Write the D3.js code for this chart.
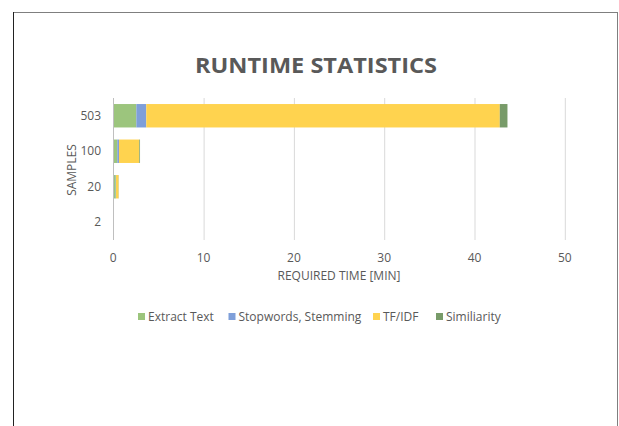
<!DOCTYPE html>
<html>
<head>
<meta charset="utf-8">
<script src="https://cdn.jsdelivr.net/npm/d3@7"></script>
<style>
  body { margin: 0; background: #fff; }
  text { font-family: "Open Sans", sans-serif; fill: #595959; }
</style>
</head>
<body>
<div id="showBox"></div>
<script>
// sample sizes, bottom to top
const samples = ["2", "20", "100", "503"];
const steps = ["Extract Text", "Stopwords, Stemming", "TF/IDF", "Similiarity"];
// minutes per step for each sample size
const extractText = [0.02, 0.27, 0.44, 2.55];
const stopwords   = [0.01, 0.03, 0.19, 1.1];
const tfidf       = [0.02, 0.28, 2.25, 39.15];
const similiarity = [0.01, 0.02, 0.08, 0.85];
const xTicks = [0, 10, 20, 30, 40, 50];
const colors = ["#9CC57D", "#7F9FD9", "#FFD34F", "#789B69"];

const width = 619, height = 426;
const svg = d3.select("#showBox").append("svg")
    .attr("width", width).attr("height", height);

// chart frame
svg.append("line").attr("x1", 13).attr("x2", 618).attr("y1", 12.5).attr("y2", 12.5)
    .attr("stroke", "#7f7f7f");
svg.append("line").attr("x1", 13.5).attr("x2", 13.5).attr("y1", 12).attr("y2", height)
    .attr("stroke", "#222");
svg.append("line").attr("x1", 617.5).attr("x2", 617.5).attr("y1", 12).attr("y2", height)
    .attr("stroke", "#7f7f7f");

const rows = samples.map((s, i) => ({
    name: s,
    "Extract Text": extractText[i],
    "Stopwords, Stemming": stopwords[i],
    "TF/IDF": tfidf[i],
    "Similiarity": similiarity[i]
}));

const x = d3.scaleLinear().domain([0, 50]).range([113.3, 564.8]);
const y = d3.scaleBand().domain(samples.slice().reverse()).range([98, 240]).paddingInner(0.34).paddingOuter(0.17);

// gridlines
svg.append("g")
    .selectAll("line")
    .data(xTicks.filter(d => d > 0))
    .join("line")
    .attr("x1", d => x(d) + 0.5).attr("x2", d => x(d) + 0.5)
    .attr("y1", 98).attr("y2", 240)
    .attr("stroke", "#d9d9d9");

const stacked = d3.stack().keys(steps)(rows);

svg.append("g")
    .selectAll("g")
    .data(stacked)
    .join("g")
    .attr("fill", (d, i) => colors[i])
    .selectAll("rect")
    .data(d => d)
    .join("rect")
    .attr("x", d => x(d[0]))
    .attr("width", d => x(d[1]) - x(d[0]))
    .attr("y", d => y(d.data.name))
    .attr("height", y.bandwidth());

// vertical axis line
svg.append("line").attr("x1", 113.5).attr("x2", 113.5).attr("y1", 98).attr("y2", 240)
    .attr("stroke", "#bfbfbf");

// category labels
svg.append("g")
    .selectAll("text")
    .data(samples)
    .join("text")
    .attr("x", 101)
    .attr("y", d => y(d) + y.bandwidth() / 2)
    .attr("dy", "0.35em")
    .attr("text-anchor", "end")
    .attr("font-size", 12)
    .text(d => d);

// x tick labels
svg.append("g")
    .selectAll("text")
    .data(xTicks)
    .join("text")
    .attr("x", d => x(d))
    .attr("y", 258)
    .attr("dy", "0.35em")
    .attr("text-anchor", "middle")
    .attr("font-size", 12)
    .text(d => d);

svg.append("text")
    .attr("x", 339).attr("y", 276).attr("dy", "0.35em")
    .attr("text-anchor", "middle").attr("font-size", 12)
    .text("REQUIRED TIME [MIN]");

svg.append("text")
    .attr("transform", "translate(72,170) rotate(-90)")
    .attr("dy", "0.35em")
    .attr("text-anchor", "middle").attr("font-size", 12)
    .text("SAMPLES");

svg.append("text")
    .attr("x", 316).attr("y", 65).attr("dy", "0.36em")
    .attr("text-anchor", "middle")
    .attr("font-size", 21).attr("font-weight", "bold")
    .attr("textLength", 242).attr("lengthAdjust", "spacingAndGlyphs")
    .text("RUNTIME STATISTICS");

// legend
const legendX = [138, 228.5, 373, 436];
const legend = svg.append("g")
    .selectAll("g")
    .data(steps)
    .join("g")
    .attr("transform", (d, i) => `translate(${legendX[i]},316.5)`);
legend.append("rect")
    .attr("x", 0).attr("y", -3.5).attr("width", 7).attr("height", 7)
    .attr("fill", (d, i) => colors[i]);
legend.append("text")
    .attr("x", 10).attr("dy", "0.35em")
    .attr("font-size", 12)
    .text(d => d);
</script>
</body>
</html>
